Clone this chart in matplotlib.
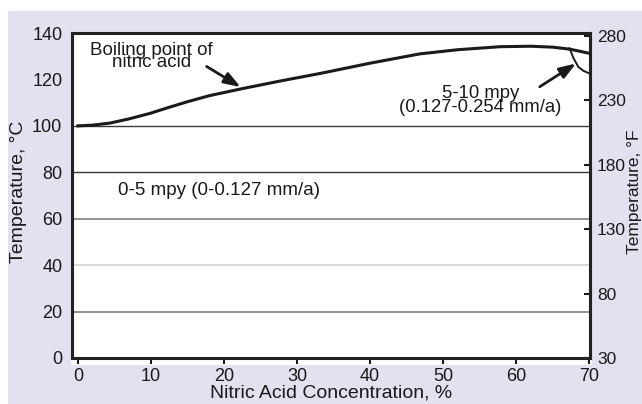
import matplotlib.pyplot as plt
from matplotlib.patches import Rectangle

plt.rcParams['font.family'] = ['Liberation Sans', 'DejaVu Sans']

# boiling point curve of nitric acid (deg C vs %)
conc = [0, 2, 4.4, 7, 9.9, 12.5, 14.9, 18, 22.6, 28, 33.2, 40, 46.8, 52, 57.8, 62, 65, 67.4, 70.1]
boil = [100, 100.3, 101.2, 103, 105.4, 108, 110.3, 113, 116.1, 119.5, 122.6, 127, 131.0, 132.8, 134.1, 134.3, 133.9, 133.0, 131.2]

# 5-10 mpy boundary
loop_x = [67.3, 67.85, 68.5, 69.2, 70.0]
loop_y = [133.4, 129.1, 125.4, 123.7, 122.6]

# horizontal lines (deg C) and their greys
hlines = [100, 80, 60, 40, 20]
hcols = ['#3a3a3a', '#3a3a3a', '#8a8a8a', '#d4d4d4', '#8a8a8a']

yticks_c = [0, 20, 40, 60, 80, 100, 120, 140]
yticks_f = [30, 80, 130, 180, 230, 280]
xticks = [0, 10, 20, 30, 40, 50, 60, 70]

W, H = 642, 404
fig = plt.figure(figsize=(W / 100, H / 100), dpi=100)
fig.patch.set_facecolor('white')
fig.patches.append(Rectangle((8 / W, 0), 1, 1 - 11 / H, transform=fig.transFigure,
                             facecolor='#e1e1ef', edgecolor='none', zorder=-2))
fig.patches.append(Rectangle((71 / W, 1 - 365 / H), (592 - 71) / W, (365 - 33) / H,
                             transform=fig.transFigure, facecolor='white', edgecolor='none', zorder=-1))

ax = fig.add_axes([72 / W, 1 - 358 / H, (590 - 72) / W, (358 - 33) / H])
ax.set_facecolor('white')

for v, c in zip(hlines, hcols):
    ax.axhline(v, color=c, lw=1.3 if c != '#3a3a3a' else 1.0, zorder=1)

ax.plot(conc, boil, color='#1a1a1a', lw=2.2, zorder=3)
ax.plot(loop_x, loop_y, color='#1a1a1a', lw=1.4, zorder=3)

ax.set_xlim(-0.8, 70.1)
ax.set_ylim(0, 140)
ax.set_xticks(xticks)
ax.set_yticks(yticks_c)
ax.tick_params(axis='y', length=0, pad=7, labelsize=13, colors='#1a1a1a')
ax.tick_params(axis='x', direction='out', length=4, width=1.5, pad=3, labelsize=13, colors='#1a1a1a')
for s in ax.spines.values():
    s.set_linewidth(2.2)
    s.set_color('#222222')

# the printed F scale puts 30 F on the 0 C baseline
sec = ax.secondary_yaxis('right', functions=(lambda c: c * 1.8 + 30, lambda f: (f - 30) / 1.8))
sec.set_yticks(yticks_f)
sec.tick_params(direction='in', length=4, width=1.5, pad=5, labelsize=12.5, colors='#1a1a1a')
sec.spines['right'].set_linewidth(2.2)
sec.spines['right'].set_color('#222222')

arrow = dict(arrowstyle='-|>,head_length=0.9,head_width=0.32', color='#1a1a1a', lw=2, mutation_scale=11)
ax.text(10.1, 129.9, 'Boiling point of\nnitric acid', ha='center', va='center', fontsize=13.5,
        linespacing=0.65, color='#1a1a1a')
ax.annotate('', xy=(22.6, 116.1), xytext=(17.3, 126.2), arrowprops=arrow)
ax.text(55.1, 111, '5-10 mpy\n(0.127-0.254 mm/a)', ha='center', va='center', fontsize=13.3,
        linespacing=0.75, color='#1a1a1a')
ax.annotate('', xy=(68.5, 127.5), xytext=(62.9, 116.2), arrowprops=arrow)
ax.text(5.5, 72.2, '0-5 mpy (0-0.127 mm/a)', ha='left', va='center', fontsize=13.5, color='#1a1a1a')

fig.text(19 / W, 1 - 192 / H, 'Temperature, °C', rotation=90, ha='center', va='center',
         fontsize=14, color='#1a1a1a')
fig.text(635 / W, 1 - 192 / H, 'Temperature, °F', rotation=90, ha='center', va='center',
         fontsize=12.5, color='#1a1a1a')
fig.text(331 / W, 1 - 393 / H, 'Nitric Acid Concentration, %', ha='center', va='center',
         fontsize=14, color='#1a1a1a')

fig.savefig('out.png', dpi=100)
